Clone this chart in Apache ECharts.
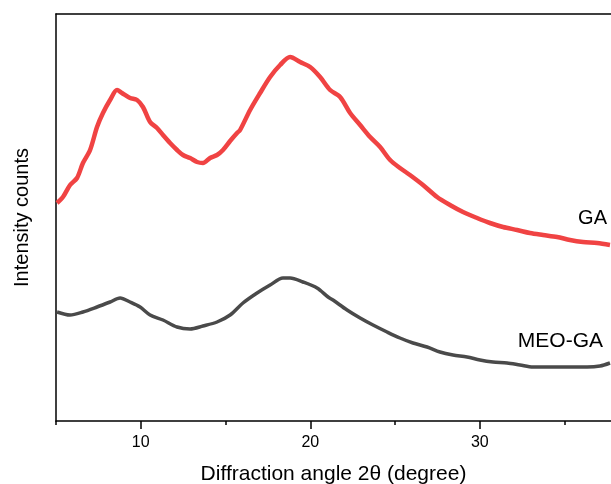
<!DOCTYPE html>
<html>
<head>
<meta charset="utf-8">
<script src="https://cdn.jsdelivr.net/npm/echarts@6/dist/echarts.min.js"></script>
<style>html,body{margin:0;padding:0;background:#fff;}#chart{width:611px;height:484px;}</style>
</head>
<body>
<div id="chart"></div>
<script>
// Diffraction angle (2θ, degree) and intensity (arbitrary units)
const gaAngle = [5.06,5.41,5.83,6.24,6.59,7.01,7.42,7.77,8.19,8.60,8.89,9.37,9.78,10.13,10.55,10.96,11.31,11.73,12.14,12.49,12.91,13.32,13.67,14.09,14.50,14.85,15.27,15.68,15.86,16.45,17.04,17.63,18.22,18.81,19.40,19.99,20.58,21.17,21.76,22.35,22.94,23.53,24.12,24.71,25.29,25.88,26.65,27.48,28.24,29.01,29.84,30.60,31.37,32.20,32.96,33.73,34.56,35.32,36.09,36.92,37.68];
const gaIntensity = [218,224,236,243,258,271,294,308,321,331,328,323,321,314,299,293,286,278,271,266,263,259,258,263,266,271,280,288,291,311,328,344,356,364,359,354,344,331,324,308,296,284,274,261,253,246,236,224,216,209,203,198,194,191,188,186,184,181,179,178,176];
const meoAngle = [5.06,5.83,6.59,7.42,8.19,8.78,9.37,9.96,10.55,11.31,12.14,12.91,13.67,14.50,15.27,16.03,16.86,17.63,18.39,18.81,19.57,20.40,21.05,21.34,22.17,22.94,23.70,24.53,25.29,26.06,26.89,27.65,28.42,29.25,30.01,30.78,31.61,32.37,33.14,33.97,34.73,35.50,36.33,37.09,37.68];
const meoIntensity = [109,106,109,114,119,123,119,114,106,101,94,92,95,99,106,118,128,136,143,143,139,133,124,121,111,103,96,89,83,78,74,69,66,64,61,59,58,56,54,54,54,54,54,55,58];
const majorTicks = [10,20,30];
const minorTicks = [5,15,25,35];
const seriesNames = ['GA','MEO-GA'];

const chart = echarts.init(document.getElementById('chart'), null, {renderer:'canvas'});
const font = 'Liberation Sans, Arial, sans-serif';
const xMin = 5, xMax = 37.74;
chart.setOption({
  animation:false,
  backgroundColor:'#fff',
  grid:{left:56, right:0, top:14, bottom:63, containLabel:false, outerBoundsMode:'none'},
  xAxis:[
    {type:'value', min:xMin, max:xMax, position:'bottom',
     name:'Diffraction angle 2θ (degree)', nameLocation:'middle', nameGap:43,
     nameTextStyle:{fontFamily:font, fontSize:21, color:'#000'},
     axisLine:{show:true, onZero:false, lineStyle:{color:'#000', width:1.5}},
     axisTick:{show:true, customValues:majorTicks, length:8, lineStyle:{color:'#000', width:1.5}},
     axisLabel:{show:true, customValues:majorTicks, margin:14, fontFamily:font, fontSize:16, color:'#000'},
     splitLine:{show:false}},
    {type:'value', min:xMin, max:xMax, position:'bottom',
     axisLine:{show:false, onZero:false},
     axisTick:{show:true, customValues:minorTicks, length:4, lineStyle:{color:'#000', width:1.5}},
     axisLabel:{show:false}, splitLine:{show:false}},
    {type:'value', min:xMin, max:xMax, position:'top',
     axisLine:{show:true, onZero:false, lineStyle:{color:'#000', width:1.5}},
     axisTick:{show:false}, axisLabel:{show:false}, splitLine:{show:false}}
  ],
  yAxis:{type:'value', min:0, max:407,
    name:'Intensity counts', nameLocation:'middle', nameGap:24,
    nameTextStyle:{fontFamily:font, fontSize:20, color:'#000'},
    axisLine:{show:true, onZero:false, lineStyle:{color:'#000', width:1.5}},
    axisTick:{show:false}, axisLabel:{show:false}, splitLine:{show:false}},
  series:[
    {name:seriesNames[0], type:'line', xAxisIndex:0, data:gaAngle.map((a,i)=>[a,gaIntensity[i]]),
     showSymbol:false, smooth:0.3, lineStyle:{color:'#f04343', width:4.5}},
    {name:seriesNames[1], type:'line', xAxisIndex:0, data:meoAngle.map((a,i)=>[a,meoIntensity[i]]),
     showSymbol:false, smooth:0.3, lineStyle:{color:'#4a4a4a', width:3.5}}
  ],
  graphic:[
    {type:'text', right:4, top:208, style:{text:seriesNames[0], font:'20px '+font, fill:'#000'}},
    {type:'text', right:8, top:331, style:{text:seriesNames[1], font:'21px '+font, fill:'#000'}}
  ]
});
</script>
</body>
</html>
